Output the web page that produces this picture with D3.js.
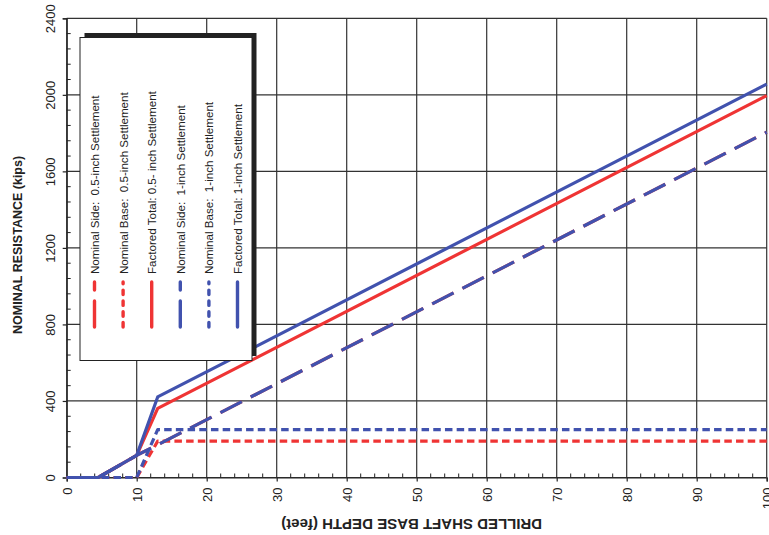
<!DOCTYPE html>
<html><head><meta charset="utf-8">
<script src="https://cdn.jsdelivr.net/npm/d3@7"></script>
<style>body{margin:0;background:#fff}svg{display:block;font-family:"Liberation Sans",Arial,sans-serif}</style>
</head><body><svg id="c" width="769" height="535"></svg>
<script>
// Data
const xTicks = [0,10,20,30,40,50,60,70,80,90,100];
const yTicks = [0,400,800,1200,1600,2000,2400];
const sideHalf   = [[0,0],[4.5,0],[10,116],[13,171],[100,1805]];
const baseHalf   = [[0,0],[10,0],[13,190],[100,190]];
const totalHalf  = [[0,0],[4.5,0],[10,116],[13,361],[100,1996]];
const sideOne    = [[0,0],[4.5,0],[10,116],[13,171],[100,1805]];
const baseOne    = [[0,0],[10,0],[13,250],[100,250]];
const totalOne   = [[0,0],[4.5,0],[10,116],[13,421],[100,2056]];
const seriesNames = ["Nominal Side:  0.5-inch Settlement","Nominal Base:  0.5-inch Settlement","Factored Total: 0.5- inch Settlement",
                     "Nominal Side:  1-inch Settlement","Nominal Base:  1-inch Settlement","Factored Total: 1-inch Settlement"];

const RED = "#ef3434", BLUE = "#4152ae";
const series = [
  {name: seriesNames[0], data: sideHalf,  color: RED,  dash: "24,10"},
  {name: seriesNames[1], data: baseHalf,  color: RED,  dash: "7.5,4.2"},
  {name: seriesNames[2], data: totalHalf, color: RED,  dash: null},
  {name: seriesNames[3], data: sideOne,   color: BLUE, dash: "24,10"},
  {name: seriesNames[4], data: baseOne,   color: BLUE, dash: "7.5,4.2"},
  {name: seriesNames[5], data: totalOne,  color: BLUE, dash: null}
];

const svg = d3.select("#c");
const x = d3.scaleLinear().domain([0,100]).range([66.7,766.7]);
const y = d3.scaleLinear().domain([0,2400]).range([477.5,18.3]);

// gridlines
const g = svg.append("g");
g.selectAll("line.vg").data(xTicks).join("line")
  .attr("x1",d=>x(d)).attr("x2",d=>x(d)).attr("y1",y(0)).attr("y2",y(2400))
  .attr("stroke","#333").attr("stroke-width",1.2);
g.selectAll("line.hg").data(yTicks).join("line")
  .attr("y1",d=>y(d)).attr("y2",d=>y(d)).attr("x1",x(0)).attr("x2",x(100))
  .attr("stroke","#333").attr("stroke-width",1.2);

// minor ticks (inward)
const xMinor = d3.range(0,101,2).filter(v=>v%10!==0);
const yMinor = d3.range(0,2401,80).filter(v=>v%400!==0);
g.selectAll("line.xm").data(xMinor).join("line")
  .attr("x1",d=>x(d)).attr("x2",d=>x(d)).attr("y1",y(0)).attr("y2",y(0)-4)
  .attr("stroke","#222").attr("stroke-width",1);
g.selectAll("line.ym").data(yMinor).join("line")
  .attr("y1",d=>y(d)).attr("y2",d=>y(d)).attr("x1",x(0)).attr("x2",x(0)+4)
  .attr("stroke","#222").attr("stroke-width",1);

// axes
const xAxis = svg.append("g").attr("transform",`translate(0,${y(0)})`)
  .call(d3.axisBottom(x).tickValues(xTicks).tickSize(4).tickFormat(d3.format("d")));
const yAxis = svg.append("g").attr("transform",`translate(${x(0)},0)`)
  .call(d3.axisLeft(y).tickValues(yTicks).tickSize(4).tickFormat(d3.format("d")));
[xAxis,yAxis].forEach(a=>{
  a.select(".domain").attr("stroke","#222").attr("stroke-width",1.2);
  a.selectAll(".tick line").attr("stroke","#222").attr("stroke-width",1.2);
  a.selectAll("text").attr("fill","#222").style("font-size","13px").style("font-family","Liberation Sans, Arial, sans-serif");
});
xAxis.selectAll(".tick text").attr("y",null).attr("dy",null)
  .attr("text-anchor","end").attr("dominant-baseline","central")
  .attr("transform","translate(0,10) rotate(-90)");
yAxis.selectAll(".tick text").attr("x",null).attr("dy",null)
  .attr("text-anchor","middle").attr("dominant-baseline","central")
  .attr("transform","translate(-16.5,0) rotate(-90)");

// lines
const line = d3.line().x(d=>x(d[0])).y(d=>y(d[1]));
svg.append("g").selectAll("path").data(series).join("path")
  .attr("d",d=>line(d.data)).attr("fill","none")
  .attr("stroke",d=>d.color).attr("stroke-width",3.2)
  .attr("stroke-dasharray",d=>d.dash)
  .attr("stroke-linejoin","round");

// axis titles
svg.append("text").attr("transform",`translate(17.5,${(y(0)+y(2400))/2 - 3}) rotate(-90)`)
  .attr("text-anchor","middle").attr("dominant-baseline","central")
  .style("font-size","12.5px").style("font-weight","bold").attr("fill","#222")
  .text("NOMINAL RESISTANCE (kips)");
svg.append("text").attr("transform",`translate(${(x(0)+x(100))/2 - 5},524) rotate(180)`)
  .attr("text-anchor","middle").attr("dominant-baseline","central")
  .style("font-size","15px").style("font-weight","bold").attr("fill","#222")
  .text("DRILLED SHAFT BASE DEPTH (feet)");

// legend
const L = {x:80, y:37.5, w:172, h:323};
const lg = svg.append("g");
lg.append("rect").attr("x",L.x+4.5).attr("y",L.y-4.5).attr("width",L.w).attr("height",L.h).attr("fill","#222");
lg.append("rect").attr("x",L.x).attr("y",L.y).attr("width",L.w).attr("height",L.h)
  .attr("fill","#fff").attr("stroke","#222").attr("stroke-width",1);
const lx = d3.scalePoint().domain(seriesNames).range([94.5,237.5]);
const items = lg.selectAll("g.item").data(series).join("g").attr("transform",d=>`translate(${lx(d.name)},0)`);
items.append("line").attr("x1",0).attr("x2",0).attr("y1",327).attr("y2",282)
  .attr("stroke",d=>d.color).attr("stroke-width",3.4).attr("stroke-linecap","round")
  .attr("stroke-dasharray",d=>d.dash===null?null:(d.dash==="24,10"?"26,11":"4.5,6.3"));
items.append("text").attr("transform","translate(0,274) rotate(-90)")
  .attr("text-anchor","start").attr("dominant-baseline","central")
  .style("font-size","11.6px").attr("fill","#222").attr("xml:space","preserve").style("white-space","pre")
  .text(d=>d.name);
</script></body></html>
